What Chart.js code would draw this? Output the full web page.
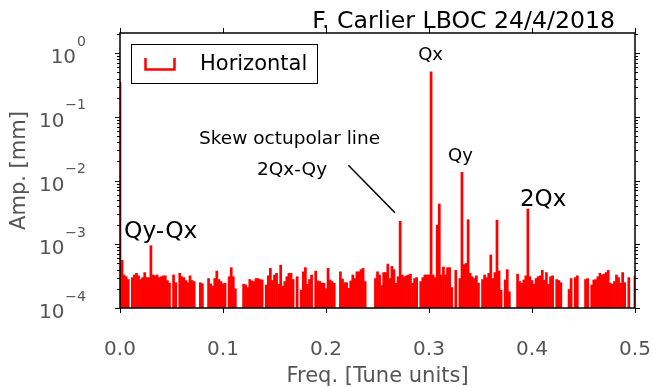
<!DOCTYPE html>
<html lang="en">
<head>
<meta charset="UTF-8">
<title>Horizontal spectrum</title>
<style>
  html, body { margin: 0; padding: 0; background: #fff; }
  canvas { display: block; }
</style>
</head>
<body>
<canvas id="spectrum" width="653" height="387"></canvas>
<script src="https://cdn.jsdelivr.net/npm/chart.js"></script>
<script>
// FFT bin spacing in tune units (bins run from 0 to 0.5)
const binStep = 0.002;

// amplitude per bin [mm]; null = below the plot floor
const amplitude = [
  0.35, 5.6e-4, 3.3e-4, 3.1e-4, 2.8e-4, null, 3.0e-4, 3.3e-4, 3.5e-4, 3.2e-4,
  2.8e-4, 3.0e-4, 3.6e-4, 3.0e-4, 3.0e-4, 9.5e-4, 3.3e-4, 3.2e-4, 3.3e-4, 3.0e-4,
  3.1e-4, 3.2e-4, 3.2e-4, 2.7e-4, 2.45e-4, null, 3.3e-4, 2.5e-4, null, 3.5e-4,
  3.1e-4, 3.0e-4, 2.7e-4, 2.5e-4, 3.2e-4, 2.7e-4, 2.6e-4, null, null, 2.5e-4,
  2.4e-4, null, null, 2.9e-4, 2.4e-4, 2.2e-4, 2.9e-4, 3.8e-4, 2.8e-4, 2.6e-4,
  2.4e-4, 2.45e-4, null, 3.1e-4, 4.3e-4, 3.1e-4, 2.0e-4, null, null, null,
  2.36e-4, 2.3e-4, 2.1e-4, 2.8e-4, 2.66e-4, 2.6e-4, 2.9e-4, 2.9e-4, 2.8e-4, 2.75e-4,
  null, 2.3e-4, 3.2e-4, 4.2e-4, 2.7e-4, 3.3e-4, 3.5e-4, 2.36e-4, 4.7e-4, 2.2e-4,
  2.6e-4, 3.1e-4, 3.5e-4, 3.5e-4, 2.8e-4, null, 3.1e-4, null, 1.9e-4, 3.7e-4,
  4.3e-4, 2.36e-4, 2.8e-4, 3.3e-4, null, 3.8e-4, 2.66e-4, 2.6e-4, 2.45e-4, 2.45e-4,
  2.0e-4, 4.2e-4, 2.76e-4, 2.6e-4, 2.44e-4, null, null, 3.7e-4, 2.85e-4, 2.5e-4,
  2.5e-4, 2.04e-4, 2.66e-4, 3.3e-4, 2.9e-4, 3.7e-4, 3.7e-4, 4.0e-4, 4.2e-4, 2.6e-4,
  null, null, null, null, 2.9e-4, 3.7e-4, 3.3e-4, 2.25e-4, 3.6e-4, 3.6e-4,
  4.9e-4, 2.9e-4, 4.5e-4, 4.0e-4, 2.44e-4, 3.1e-4, 2.3e-3, 3.3e-4, 3.1e-4, 3.2e-4,
  3.3e-4, 3.4e-4, 2.44e-4, 2.9e-4, 3.0e-4, null, 2.6e-4, 3.0e-4, 3.3e-4, 3.3e-4,
  3.3e-4, 0.51, 3.3e-4, 3.0e-4, 2.0e-3, 4.3e-3, 3.3e-4, 4.4e-4, 3.3e-4, 4.3e-4,
  4.3e-4, 2.1e-4, null, 3.9e-4, null, 2.9e-4, 1.35e-2, 4.8e-4, 5.0e-4, 2.43e-3,
  3.5e-4, 3.1e-4, 2.9e-4, 3.2e-4, 2.44e-4, null, 2.8e-4, 3.3e-4, 3.0e-4, 3.5e-4,
  6.8e-4, 2.9e-4, 3.6e-4, 2.4e-3, 3.8e-4, 1.9e-4, null, 2.76e-4, 4.0e-4, 1.8e-4,
  null, null, null, 3.4e-4, 2.6e-4, 2.44e-4, 2.76e-4, 3.2e-4, 3.58e-3, 3.1e-4,
  2.7e-4, 2.36e-4, 2.9e-4, 3.1e-4, 3.2e-4, 3.9e-4, 2.75e-4, 3.6e-4, 2.36e-4, 3.1e-4,
  3.2e-4, null, 2.8e-4, 2.7e-4, 2.5e-4, null, null, null, 1.95e-4, 2.9e-4,
  null, 3.0e-4, 3.2e-4, null, null, null, 2.8e-4, 2.9e-4, null, 2.3e-4,
  2.75e-4, 2.8e-4, 3.1e-4, 3.5e-4, 3.3e-4, 3.4e-4, 3.6e-4, 3.9e-4, 2.45e-4, 2.36e-4,
  2.6e-4, 3.3e-4, 3.0e-4, 2.45e-4, 3.6e-4, 2.5e-4, null, 3.0e-4, null, null,
  3.2e-4
];

const xTickValues = [0, 0.1, 0.2, 0.3, 0.4, 0.5];
const xTickLabels = ['0.0', '0.1', '0.2', '0.3', '0.4', '0.5'];
const yTickExponents = [0, -1, -2, -3, -4];
const seriesName = 'Horizontal';
const chartTitle = 'F. Carlier LBOC 24/4/2018';
const xTitle = 'Freq. [Tune units]';
const yTitle = 'Amp. [mm]';

const FONT = '"DejaVu Sans", "Liberation Sans", sans-serif';
const GREY = '#555555';

const points = amplitude.map((a, i) => ({ x: i * binStep, y: a }));

// frame, ticks, tick labels, titles, legend and line annotations
const decorations = {
  id: 'decorations',
  afterDraw(chart) {
    const { ctx, chartArea: area, scales: { x, y } } = chart;
    ctx.save();

    // frame
    ctx.strokeStyle = '#000';
    ctx.lineWidth = 1.5;
    ctx.strokeRect(area.left, area.top, area.right - area.left, area.bottom - area.top);

    // x ticks (outward, top and bottom) + labels
    ctx.lineWidth = 1;
    ctx.fillStyle = GREY;
    ctx.font = '20px ' + FONT;
    ctx.textAlign = 'center';
    ctx.textBaseline = 'alphabetic';
    xTickValues.forEach((v, i) => {
      const px = Math.round(x.getPixelForValue(v)) + 0.5;
      ctx.beginPath();
      ctx.moveTo(px, area.bottom); ctx.lineTo(px, area.bottom + 5);
      ctx.moveTo(px, area.top); ctx.lineTo(px, area.top - 5);
      ctx.stroke();
      ctx.fillText(xTickLabels[i], x.getPixelForValue(v), area.bottom + 47);
    });

    // y ticks, major and minor, on both sides
    for (let e = -4; e <= 0; e++) {
      for (let m = 1; m <= 9; m++) {
        const v = m * Math.pow(10, e);
        if (v < y.min || v > y.max) continue;
        const py = Math.round(y.getPixelForValue(v)) + 0.5;
        const len = m === 1 ? 5 : 3;
        ctx.beginPath();
        ctx.moveTo(area.left, py); ctx.lineTo(area.left - len, py);
        ctx.moveTo(area.right, py); ctx.lineTo(area.right + len, py);
        ctx.stroke();
      }
    }

    // y tick labels: 10 with superscript exponent
    ctx.textAlign = 'right';
    yTickExponents.forEach(e => {
      const py = y.getPixelForValue(Math.pow(10, e));
      const expText = e === 0 ? '0' : '\u2212' + (-e);
      ctx.font = '14px ' + FONT;
      const ew = ctx.measureText(expText).width;
      ctx.fillText(expText, 86, py - 7.5);
      ctx.font = '20px ' + FONT;
      ctx.fillText('10', 85 - ew, py + 10);
    });

    // axis titles
    ctx.font = '21px ' + FONT;
    ctx.textAlign = 'center';
    ctx.fillText(xTitle, (area.left + area.right) / 2, 382);
    ctx.save();
    ctx.translate(25, (area.top + area.bottom) / 2);
    ctx.rotate(-Math.PI / 2);
    ctx.fillText(yTitle, 0, 0);
    ctx.restore();

    // title
    ctx.fillStyle = '#000';
    ctx.font = '23.6px ' + FONT;
    ctx.textAlign = 'right';
    ctx.fillText(chartTitle, 615, 28);

    // peak annotations (data coordinates)
    const notes = [
      { text: 'Qx', fx: 0.3015, v: 0.776, size: 18, align: 'center' },
      { text: 'Qy', fx: 0.3306, v: 0.0202, size: 18, align: 'center' },
      { text: '2Qx', fx: 0.3883, v: 0.00398, size: 23, align: 'left' },
      { text: 'Qy-Qx', fx: 0.0039, v: 1.25e-3, size: 23.4, align: 'left' },
      { text: 'Skew octupolar line', fx: 0.0767, v: 0.0374, size: 18.5, align: 'left' },
      { text: '2Qx-Qy', fx: 0.133, v: 0.0122, size: 18.5, align: 'left' }
    ];
    notes.forEach(n => {
      ctx.font = n.size + 'px ' + FONT;
      ctx.textAlign = n.align;
      ctx.fillText(n.text, x.getPixelForValue(n.fx), y.getPixelForValue(n.v));
    });
    ctx.lineWidth = 1.5;
    ctx.beginPath();
    ctx.moveTo(x.getPixelForValue(0.2217), y.getPixelForValue(0.0175));
    ctx.lineTo(x.getPixelForValue(0.267), y.getPixelForValue(3.13e-3));
    ctx.stroke();

    // legend
    const lx = 131, ly = 44, lw = 186, lh = 39;
    ctx.fillStyle = '#fff';
    ctx.fillRect(lx, ly, lw, lh);
    ctx.strokeStyle = '#000';
    ctx.lineWidth = 1;
    ctx.strokeRect(lx + 0.5, ly + 0.5, lw, lh);
    ctx.strokeStyle = '#ff0000';
    ctx.lineWidth = 2.5;
    ctx.beginPath();
    ctx.moveTo(145.5, 58); ctx.lineTo(145.5, 69.5); ctx.lineTo(174.5, 69.5); ctx.lineTo(174.5, 58);
    ctx.stroke();
    ctx.fillStyle = '#000';
    ctx.font = '21px ' + FONT;
    ctx.textAlign = 'left';
    ctx.fillText(chart.data.datasets[0].label, 200, 70);

    ctx.restore();
  }
};

new Chart(document.getElementById('spectrum'), {
  type: 'bar',
  data: {
    datasets: [{
      label: seriesName,
      data: points,
      backgroundColor: '#ff0000',
      borderWidth: 0,
      barPercentage: 1,
      categoryPercentage: 1
    }]
  },
  options: {
    responsive: false,
    animation: false,
    layout: { padding: { left: 120, right: 18, top: 33, bottom: 79 } },
    plugins: { legend: { display: false }, tooltip: { enabled: false } },
    scales: {
      x: { type: 'linear', display: false, min: 0, max: 0.5, offset: false },
      y: { type: 'logarithmic', display: false, min: 1e-4, max: 2.08 }
    }
  },
  plugins: [decorations]
});
</script>
</body>
</html>
